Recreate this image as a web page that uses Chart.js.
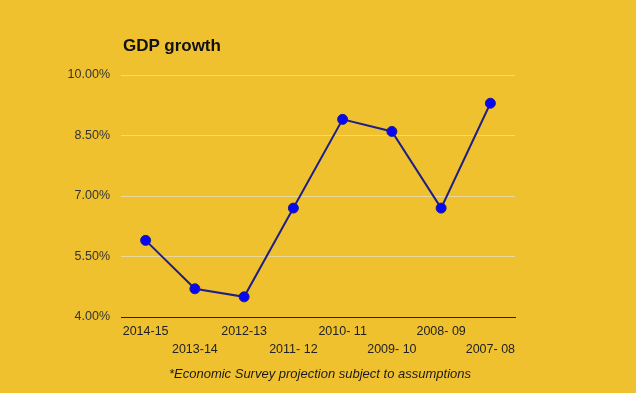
<!DOCTYPE html>
<html>
<head>
    <meta charset="utf-8" />
    <title>GDP growth</title>
    <style>
        body { margin: 0; background: #f0c12f; font-family: "Liberation Sans", Arial, sans-serif; }
        #wrap { position: relative; width: 636px; height: 393px; }
        #title { position: absolute; left: 123px; top: 36px; font-size: 17px; font-weight: bold; color: #111; }
        #note { position: absolute; left: 0; width: 640px; top: 366px; text-align: center; font-size: 13px; font-style: italic; color: #1a1a1a; }
    </style>
</head>
<body>
    <div id="wrap">
        <canvas id="myChart" width="636" height="393"></canvas>
        <div id="title">GDP growth</div>
        <div id="note">*Economic Survey projection subject to assumptions</div>
    </div>

    <script src="https://cdn.jsdelivr.net/npm/chart.js"></script>
    <script>
        // years, newest first as in the original
        const years = ['2014-15', '2013-14', '2012-13', '2011- 12', '2010- 11', '2009- 10', '2008- 09', '2007- 08'];
        const growth = [5.9, 4.7, 4.5, 6.7, 8.9, 8.6, 6.7, 9.3];
        const yTicks = [4, 5.5, 7, 8.5, 10];

        // stagger labels on two rows
        const labels = years.map((y, i) => i % 2 == 0 ? [y, ''] : ['', y]);

        new Chart(document.getElementById('myChart'), {
            type: 'line',
            data: {
                labels: labels,
                datasets: [{
                    data: growth,
                    borderColor: '#1f1f86',
                    borderWidth: 2,
                    tension: 0,
                    pointRadius: 5,
                    pointBackgroundColor: '#0808f0',
                    pointBorderColor: '#1a1a90',
                    pointBorderWidth: 1
                }]
            },
            options: {
                responsive: false,
                animation: false,
                layout: { padding: { top: 75, right: 121, bottom: 20, left: 0 } },
                plugins: { legend: { display: false }, tooltip: { enabled: false } },
                scales: {
                    x: {
                        offset: true,
                        grid: { display: false },
                        border: { display: true, color: '#222', width: 1 },
                        ticks: {
                            autoSkip: false,
                            maxRotation: 0,
                            padding: -3,
                            color: '#222',
                            font: { family: 'Liberation Sans', size: 12.5, lineHeight: 1.45 }
                        },
                        afterFit: (s) => { s.height = 56; }
                    },
                    y: {
                        min: 4,
                        max: 10,
                        afterBuildTicks: (s) => { s.ticks = yTicks.map(v => ({ value: v })); },
                        grid: { color: '#ead79c', drawTicks: false },
                        border: { display: false },
                        ticks: {
                            padding: 11,
                            color: '#333',
                            font: { family: 'Liberation Sans', size: 12.5 },
                            callback: (v) => v.toFixed(2) + '%'
                        },
                        afterFit: (s) => { s.width = 121; }
                    }
                }
            }
        });
    </script>
</body>
</html>
